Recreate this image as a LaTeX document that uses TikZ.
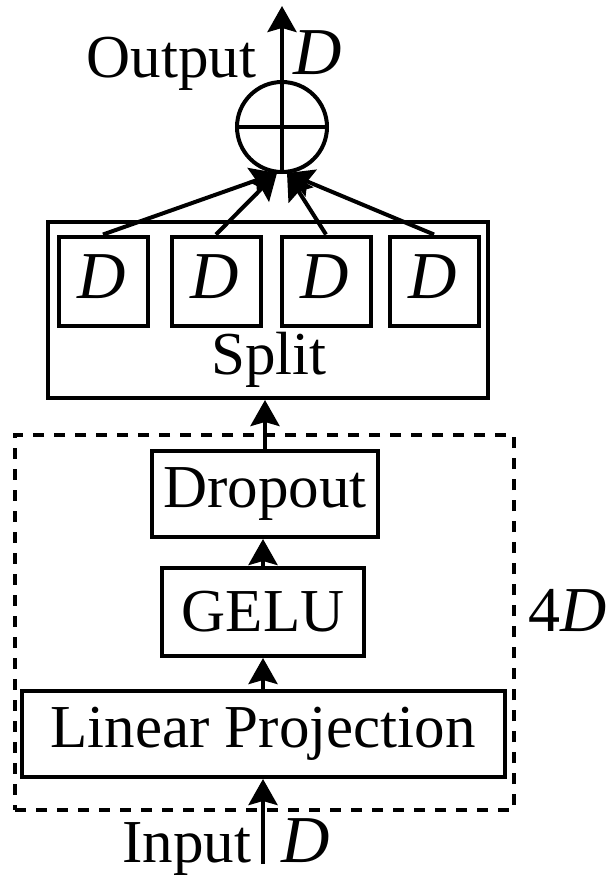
\documentclass[tikz,border=0pt]{standalone}
\usepackage{fontspec}
\setmainfont{Liberation Serif}
\usetikzlibrary{arrows.meta}
\begin{document}
\begin{tikzpicture}[x=1pt,y=-1pt, line width=4pt,
  box/.style={draw, inner sep=0pt, font=\fontsize{61}{61}\selectfont},
  lbl/.style={inner sep=0pt, font=\fontsize{61}{61}\selectfont},
  mathlbl/.style={inner sep=0pt, font=\fontsize{67}{67}\selectfont\itshape},
  arr/.style={-{Stealth[length=26pt,width=29pt,inset=4pt]}}]
\useasboundingbox (0,0) rectangle (610,876);
% sum
\node[draw, circle, minimum size=90pt, inner sep=0pt] (sum) at (282,127) {};
\draw (sum.west) -- (sum.east);
\coordinate (outtip) at (282,6);
\draw[arr] (sum.south) -- (outtip);
\node[lbl, anchor=base east] (outlbl) at (258,77) {Output};
\node[mathlbl, anchor=base west] (outd) at (291,74) {D};
% split
\node[box, minimum width=440pt, minimum height=176pt] (split) at (268,310) {};
\node[lbl, anchor=base] (splitlbl) at (269,374) {Split};
\foreach \i/\x in {1/103,2/216,3/326,4/434}{
  \node[box, minimum width=89pt, minimum height=89pt] (d\i) at (\x,281) {};
  \node[mathlbl, anchor=base] (dl\i) at (\x-1,298) {D};
}
\coordinate (inL) at (277,173);
\coordinate (inR) at (287,173);
\draw[arr] (d1.north) -- (inL);
\draw[arr] (d2.north) -- (inL);
\draw[arr] (d3.north) -- (inR);
\draw[arr] (d4.north) -- (inR);
% mlp
\node[draw, dash pattern=on 11pt off 10pt, minimum width=499pt, minimum height=375pt, inner sep=0pt] (mlp) at (264.5,622.5) {};
\node[box, minimum width=226pt, minimum height=86pt] (drop) at (265,494) {Dropout};
\node[box, minimum width=202pt, minimum height=88pt] (gelu) at (263,612) {GELU};
\node[box, minimum width=483pt, minimum height=86pt] (lp) at (263,734) {Linear Projection};
\node[inner sep=0pt, anchor=base west, font=\fontsize{64}{64}\selectfont] (fourd) at (526,631) {4\textit{D}};
\draw[arr] (drop.north) -- (drop.north |- split.south);
\draw[arr] (gelu.north) -- (gelu.north |- drop.south);
\draw[arr] (lp.north) -- (lp.north |- gelu.south);
\coordinate (inbot) at (263,864);
\draw[arr] (inbot) -- (inbot |- lp.south);
\node[lbl, anchor=base east] (inlbl) at (253,862) {Input};
\node[mathlbl, anchor=base west] (ind) at (279,862) {D};
\end{tikzpicture}
\end{document}
